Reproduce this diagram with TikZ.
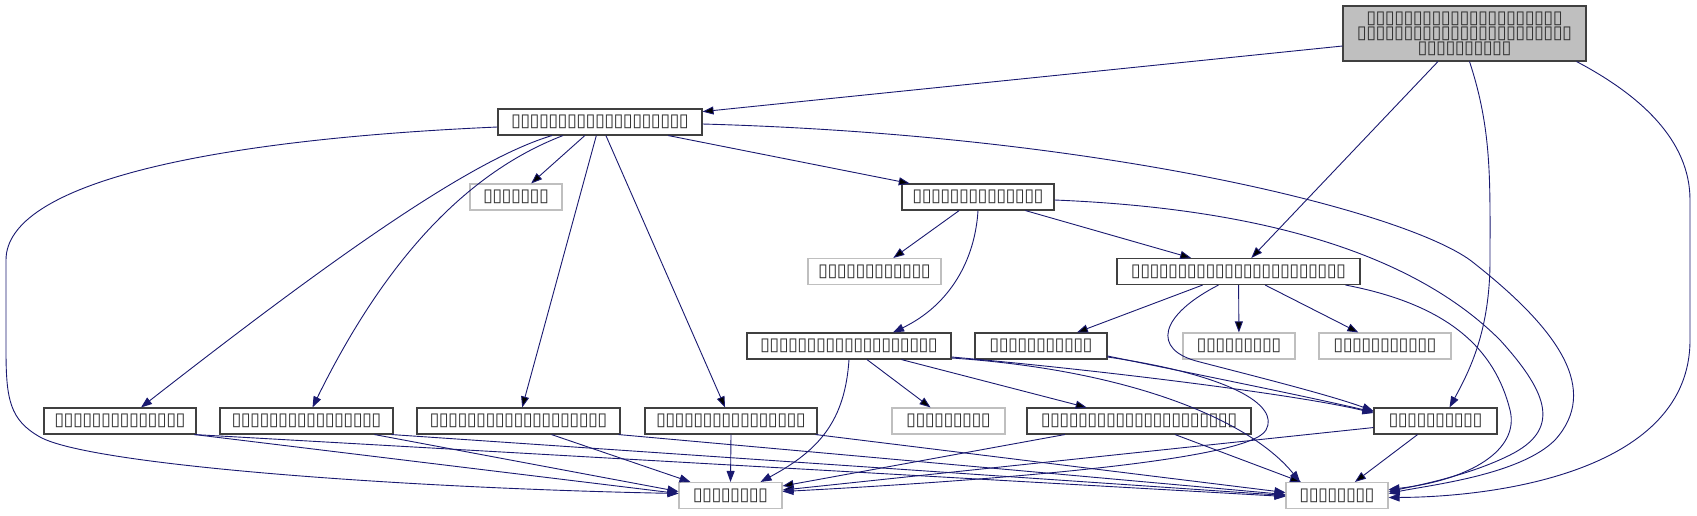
\documentclass[tikz,border=0pt]{standalone}
\usepackage{fontspec}
\newfontfamily\tofufont{DejaVu Sans}
\usetikzlibrary{arrows.meta}
\definecolor{edgeblue}{RGB}{25,25,112}
\definecolor{boxgray}{RGB}{191,191,191}
\newcommand\tofu[1]{\foreach \k in {1,...,#1}{\makebox[9.33pt]{▯}}}

\begin{document}
\begin{tikzpicture}[x=1pt,y=-1pt,
  >={Triangle[length=11pt,width=8pt]},
  every node/.style={font=\tofufont\fontsize{18}{15}\selectfont,inner sep=0pt,minimum height=26pt,text=black!80},
  incfile/.style={draw=black!75,line width=1.1pt},
  extfile/.style={draw=boxgray,line width=1.1pt},
  dep/.style={->,draw=edgeblue,line width=0.9pt}]
\useasboundingbox (0,0) rectangle (1697,515);

\node[incfile,fill=boxgray,align=center,minimum width=243pt,minimum height=55pt] (top) at (1464.5,33.5) {\tofu{21}\\\tofu{23}\\\tofu{10}};
\node[incfile,minimum width=204pt] (core) at (600,122) {\tofu{19}};
\node[extfile,minimum width=92pt] (b) at (516,197) {\tofu{7}};
\node[incfile,minimum width=152pt] (c) at (978,197) {\tofu{14}};
\node[extfile,minimum width=133pt] (d) at (874.5,271.5) {\tofu{12}};
\node[incfile,minimum width=243pt] (e) at (1238.5,271.5) {\tofu{23}};
\node[incfile,minimum width=204pt] (f) at (849,346) {\tofu{19}};
\node[incfile,minimum width=132pt] (g) at (1041,346) {\tofu{11}};
\node[extfile,minimum width=112pt] (h) at (1239,346) {\tofu{9}};
\node[extfile,minimum width=132pt] (i) at (1385,346) {\tofu{11}};
\node[incfile,minimum width=152pt] (j) at (120,421) {\tofu{14}};
\node[incfile,minimum width=173pt] (k) at (306.5,421) {\tofu{16}};
\node[incfile,minimum width=203pt] (l) at (518.5,421) {\tofu{19}};
\node[incfile,minimum width=172pt] (m) at (731,421) {\tofu{16}};
\node[extfile,minimum width=113pt] (n) at (948.5,421) {\tofu{9}};
\node[incfile,minimum width=224pt] (o) at (1139,421) {\tofu{21}};
\node[incfile,minimum width=123pt] (p) at (1435.5,421) {\tofu{10}};
\node[extfile,minimum width=103pt] (q) at (730.5,495.5) {\tofu{8}};
\node[extfile,minimum width=102pt] (r) at (1337,495.5) {\tofu{8}};

\path[dep] (top) edge (core) edge (e)
  (core) edge (b) edge (c) edge (l) edge (m)
  (c) edge (d) edge (e)
  (e) edge (h) edge (i) edge (g)
  (f) edge (n) edge (o)
  (o) edge (q) edge (r)
  (p) edge (q) edge (r);
\draw[dep] ([xshift=5pt]top.south) .. controls (1492,130) and (1490,180) .. (1490,260)
  .. controls (1490,330) and (1470,370) .. ([xshift=14pt]p.north);
\draw[dep] ([xshift=-10pt]top.south east) .. controls (1640,95) and (1690,140) .. (1690,200) -- (1690,340)
  .. controls (1690,470) and (1500,497) .. ([yshift=-2pt]r.east);
\draw[dep] ([yshift=-5pt]core.west) .. controls (200,140) and (6,185) .. (6,260) -- (6,350)
  .. controls (6,400) and (10,420) .. (40,437) .. controls (90,465) and (400,488) .. ([yshift=2pt]q.west);
\draw[dep] ([xshift=-48pt]core.south) .. controls (470,160) and (330,260) .. ([xshift=21pt]j.north);
\draw[dep] ([xshift=-37pt]core.south) .. controls (460,175) and (380,270) .. ([xshift=6pt]k.north);
\draw[dep] ([yshift=-2pt]core.east) .. controls (1100,135) and (1400,210) .. (1470,260)
  .. controls (1560,330) and (1600,390) .. (1555,440) .. controls (1520,475) and (1430,485) .. ([yshift=2pt]r.east);
\draw[dep] (c.south) .. controls (975,260) and (950,305) .. ([xshift=44pt]f.north);
\draw[dep] ([yshift=-3pt]c.east) .. controls (1300,210) and (1430,270) .. (1500,340)
  .. controls (1550,395) and (1560,430) .. (1510,455) .. controls (1470,475) and (1420,485) .. ([yshift=4pt]r.east);
\draw[dep] ([xshift=-20pt]e.south) .. controls (1160,315) and (1150,350) .. (1200,362)
  .. controls (1250,375) and (1330,395) .. ([yshift=10pt]p.west);
\draw[dep] ([xshift=-15pt]e.south east) .. controls (1450,305) and (1495,350) .. (1510,410)
  .. controls (1520,450) and (1470,480) .. ([yshift=6pt]r.east);
\draw[dep] (f.south) .. controls (845,420) and (820,450) .. ([xshift=30pt]q.north);
\draw[dep] ([yshift=-11pt]f.east) .. controls (1100,370) and (1300,395) .. ([yshift=8pt]p.west);
\draw[dep] ([yshift=-12pt]f.east) .. controls (1130,370) and (1250,420) .. ([xshift=-37pt]r.north);
\draw[dep] ([yshift=-10pt]g.east) .. controls (1200,375) and (1300,395) .. ([yshift=9pt]p.west);
\draw[dep] ([yshift=-11pt]g.east) .. controls (1230,375) and (1280,405) .. (1266,430)
  .. controls (1250,460) and (1000,480) .. ([yshift=4pt]q.east);
\draw[dep] ([xshift=-2pt]j.south east) -- ([yshift=2pt]q.west);
\draw[dep] ([xshift=-2pt]j.south east) -- ([yshift=-1pt]r.west);
\draw[dep] ([xshift=68pt]k.south) -- ([yshift=4pt]q.west);
\draw[dep] ([xshift=-2pt]k.south east) -- ([yshift=0pt]r.west);
\draw[dep] ([xshift=33pt]l.south) -- ([xshift=-40pt]q.north);
\draw[dep] ([xshift=-2pt]l.south east) -- ([yshift=1pt]r.west);
\draw[dep] (m.south) -- (q.north);
\draw[dep] ([xshift=-2pt]m.south east) -- ([yshift=3pt]r.west);
\end{tikzpicture}
\end{document}
